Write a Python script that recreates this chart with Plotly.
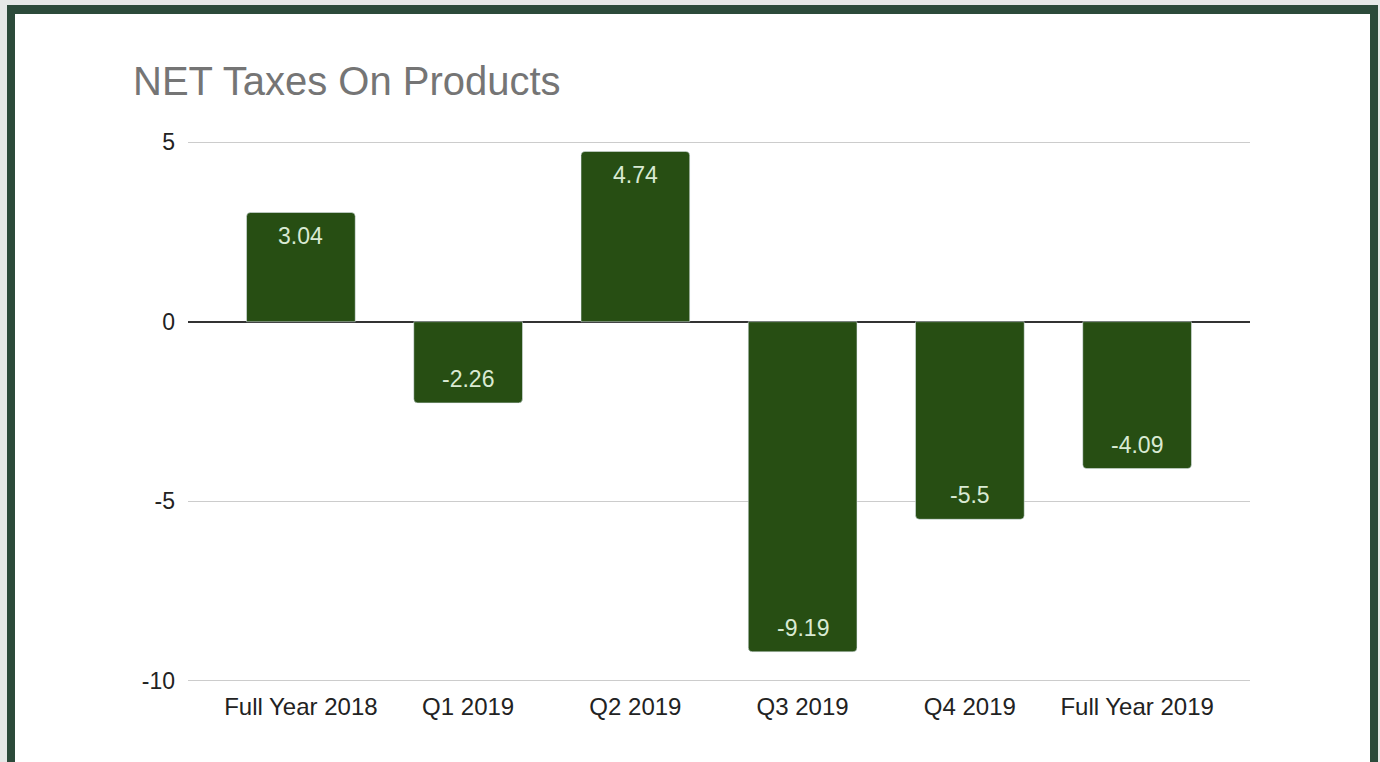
import plotly.graph_objects as go

categories = ["Full Year 2018", "Q1 2019", "Q2 2019", "Q3 2019", "Q4 2019", "Full Year 2019"]
values = [3.04, -2.26, 4.74, -9.19, -5.5, -4.09]
y_ticks = [5, 0, -5, -10]
y_tick_text = ["5", "0", "-5", "-10"]

BAR_COLOR = "#274e13"
LABEL_COLOR = "#d9ead3"
BORDER_COLOR = "#2c4a3a"
FONT = "Arial, Liberation Sans, sans-serif"

# pixel geometry of the plot area (slightly padded so edge gridlines show)
W, H = 1380, 762
PX0, PX1, PY0, PY1 = 188, 1250, 141, 682
Y_RANGE = [-10.03, 5.03]


def px_x(p):
    return (p - PX0) / (PX1 - PX0)


def px_y(p):
    return (PY1 - p) / (PY1 - PY0)


fig = go.Figure()
fig.add_trace(go.Bar(
    x=categories,
    y=values,
    marker=dict(color=BAR_COLOR, cornerradius=4),
    width=0.65,
    hoverinfo="x+y",
))

for c, v in zip(categories, values):
    fig.add_annotation(
        x=c, y=v, text=f"{v:g}", showarrow=False,
        yshift=-24 if v > 0 else 24,
        font=dict(color=LABEL_COLOR, size=23, family=FONT),
    )

# outer frame
fig.add_shape(type="rect", xref="paper", yref="paper", layer="below",
              x0=px_x(7), x1=px_x(1378), y0=px_y(5), y1=px_y(H + 20),
              fillcolor=BORDER_COLOR, line_width=0)
fig.add_shape(type="rect", xref="paper", yref="paper", layer="below",
              x0=px_x(15), x1=px_x(1370), y0=px_y(14), y1=px_y(H + 20),
              fillcolor="white", line_width=0)

fig.update_layout(
    width=W, height=H,
    margin=dict(l=PX0, r=W - PX1, t=PY0, b=H - PY1),
    paper_bgcolor="#e6e8e7",
    plot_bgcolor="rgba(0,0,0,0)",
    font=dict(family=FONT, size=24, color="#222222"),
    title=dict(
        text="NET Taxes On Products",
        x=133 / W, xref="container", xanchor="left",
        y=1 - 81 / H, yref="container", yanchor="middle",
        font=dict(size=40, color="#757575", family=FONT),
    ),
    showlegend=False,
)
fig.update_xaxes(
    range=[-0.675, 5.675],
    showgrid=False,
    ticks="",
    ticklabelstandoff=8,
    tickfont=dict(size=24, color="#222222"),
)
fig.update_yaxes(
    range=Y_RANGE,
    tickvals=y_ticks,
    ticktext=y_tick_text,
    showgrid=True, gridcolor="#cccccc", gridwidth=1,
    zeroline=True, zerolinecolor="#333333", zerolinewidth=1.5,
    ticks="",
    ticklabelstandoff=12,
    tickfont=dict(size=23, color="#222222"),
)

fig.write_html("out.html", config={"displayModeBar": False},
               post_script="document.body.style.margin='0';")
